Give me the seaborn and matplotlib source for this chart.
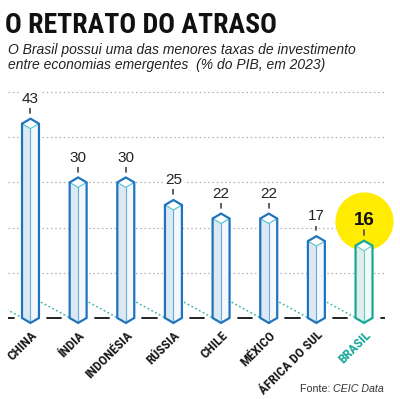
import matplotlib
matplotlib.use("Agg")
import matplotlib.pyplot as plt
from matplotlib.patches import Polygon
import seaborn as sns

# dados (% do PIB, 2023)
paises = ["CHINA", "ÍNDIA", "INDONÉSIA", "RÚSSIA", "CHILE", "MÉXICO", "ÁFRICA DO SUL", "BRASIL"]
valores = [43, 30, 30, 25, 22, 22, 17, 16]
destaque = "BRASIL"
grade = [10, 20, 30, 40, 50]

titulo = "O RETRATO DO ATRASO"
subtitulo1 = "O Brasil possui uma das menores taxas de investimento"
subtitulo2 = "entre economias emergentes  (% do PIB, em 2023)"

# cores
azul = "#1f74bd"
azul_claro = "#d9eaf6"
azul_branco = "#f2f8fc"
azul_linha = "#6aa8dc"
ciano = "#4fc4d4"
verde = "#17a898"
verde_claro = "#dcf1ee"
verde_branco = "#f2faf9"
amarelo = "#ffec00"
sombra = "#3db8ae"

sns.set_theme(style="white")
plt.rcParams["font.family"] = ["Liberation Sans", "DejaVu Sans"]
estreita = ["Roboto Condensed", "Open Sans Condensed", "Liberation Sans Narrow", "DejaVu Sans"]

fig = plt.figure(figsize=(4, 3.99), dpi=100)
ax = fig.add_axes([0.02, 72 / 399, 0.9425, 244 / 399])

cores = [verde_claro if p == destaque else azul_claro for p in paises]
sns.barplot(x=paises, y=valores, hue=paises, palette=cores, width=0.356,
            linewidth=0, legend=False, ax=ax, zorder=3)

ax.set_xlim(-0.472, 7.44)
ax.set_ylim(-2, 52)
ax.axis("off")

d = 1.1  # profundidade da ponta (unidades de y)

for g in grade:
    ax.axhline(g, color="#b3b3b3", lw=0.9, ls=(0, (1.2, 2.2)), zorder=0)

# linha de base tracejada
for k in range(-1, len(paises)):
    ax.plot([k + 0.5 - 0.15, k + 0.5 + 0.15], [0, 0], color="#111111", lw=1.3, zorder=1)

for bar, pais, v in zip(ax.patches, paises, valores):
    c = bar.get_x() + bar.get_width() / 2
    h = bar.get_width() / 2
    br = pais == destaque
    borda = verde if br else azul
    claro = verde_claro if br else azul_claro
    branco = verde_branco if br else azul_branco

    # sombra pontilhada
    ax.plot([c - 0.78, c - 0.17], [3.5, 0], color=sombra, lw=1.1,
            ls=(0, (1.2, 1.6)), zorder=1)

    ax.add_patch(Polygon([(c, v - d), (c + h, v), (c + h, 0), (c, -d)],
                         closed=True, facecolor=branco, edgecolor="none", zorder=4))
    ax.add_patch(Polygon([(c - h, 0), (c, 0), (c, -d)],
                         closed=True, facecolor=claro, edgecolor="none", zorder=4))
    ax.add_patch(Polygon([(c - h, v), (c, v + d), (c + h, v), (c, v - d)],
                         closed=True, facecolor="white", edgecolor="none", zorder=4))
    ax.plot([c - h, c, c + h], [v, v - d, v], color=ciano if not br else "#5fcfc2",
            lw=0.8, zorder=5)
    ax.plot([c, c], [v - d, -d], color=azul_linha if not br else "#5fcfc2", lw=0.8, zorder=5)
    ax.add_patch(Polygon([(c - h, 0), (c - h, v), (c, v + d), (c + h, v), (c + h, 0), (c, -d)],
                         closed=True, facecolor="none", edgecolor=borda, lw=1.6,
                         joinstyle="miter", zorder=6))

    # marcador e valor
    ax.plot([c, c], [v + 2.4, v + 3.5], color="#555555", lw=1.3, zorder=5)
    if br:
        ax.scatter([c], [v + 5.5], s=1750, color=amarelo, linewidths=0, zorder=2,
                   clip_on=False)
        ax.text(c, v + 4.6, str(v), ha="center", va="baseline", fontsize=13.5,
                fontweight="bold", color="#111111", zorder=7)
    else:
        ax.text(c, v + 4.6, str(v), ha="center", va="baseline", fontsize=11,
                color="#222222", zorder=7,
                bbox=dict(facecolor="white", edgecolor="none", pad=1.5))

    # rótulo do país
    ax.text(c + 0.1, -3.4, pais, rotation=45, rotation_mode="anchor",
            ha="right", va="center", fontsize=9.6, fontweight="bold",
            family=estreita, fontstretch="condensed",
            color=verde if br else "#1a1a1a")

fig.text(0.0125, 1 - 33 / 399, titulo, fontsize=20, fontweight="bold",
         family=estreita, fontstretch="condensed", color="#111111", va="baseline")
fig.text(8 / 400, 1 - 54 / 399, subtitulo1, fontsize=10, style="italic",
         color="#222222", va="baseline")
fig.text(8 / 400, 1 - 69 / 399, subtitulo2, fontsize=10, style="italic",
         color="#222222", va="baseline")

fonte = fig.text(384 / 400, 1 - 392 / 399, "CEIC Data", fontsize=7.7,
                 style="italic", color="#333333", ha="right", va="baseline")
ax.annotate("Fonte: ", xy=(0, 0), xycoords=fonte, ha="right", va="bottom",
            fontsize=7.7, color="#333333", annotation_clip=False)

fig.savefig("out.png", dpi=100)
